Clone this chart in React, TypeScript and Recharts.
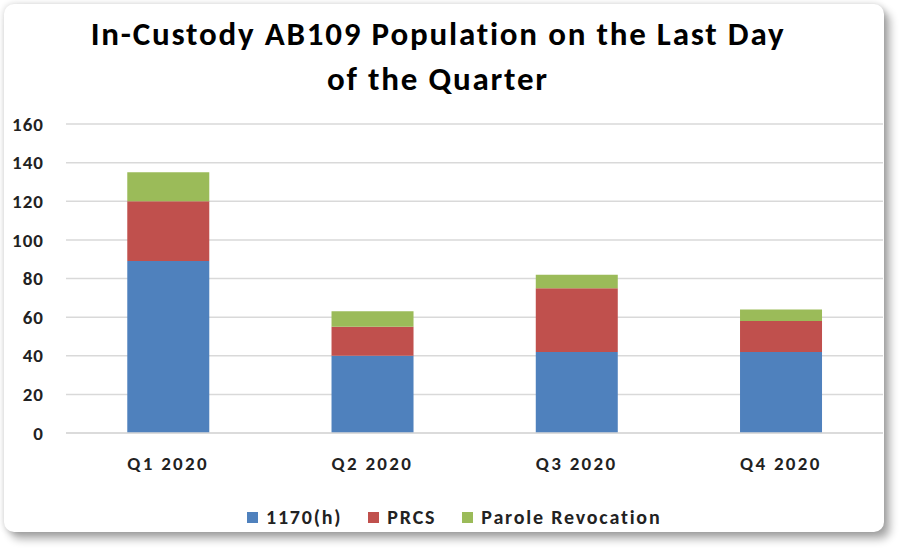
import React from 'react';
import { BarChart, Bar, XAxis, YAxis, CartesianGrid, Legend } from 'recharts';

const categories = ['Q1 2020', 'Q2 2020', 'Q3 2020', 'Q4 2020'];
const h1170 = [89, 40, 42, 42];
const prcs = [31, 15, 33, 16];
const paroleRevocation = [15, 8, 7, 6];
const yTicks = [0, 20, 40, 60, 80, 100, 120, 140, 160];

const seriesNames = ['1170(h)', 'PRCS', 'Parole Revocation'];
const seriesColors = ['#4F81BD', '#C0504D', '#9BBB59'];

const data = categories.map((c, i) => ({
  name: c,
  a: h1170[i],
  b: prcs[i],
  c: paroleRevocation[i],
}));

const FONT = 'Calibri, Carlito, Lato, "Noto Sans", sans-serif';

const LegendContent = () => (
  <div style={{ display: 'flex', alignItems: 'center', fontFamily: FONT, fontWeight: 700, fontSize: 20, letterSpacing: '1.8px', color: '#222', whiteSpace: 'nowrap' }}>
    {seriesNames.map((n, i) => (
      <div key={n} style={{ display: 'flex', alignItems: 'center', marginRight: i < 2 ? 26 : 0 }}>
        <div style={{ width: 11, height: 11, background: seriesColors[i], marginRight: 8 }} />
        <span>{n}</span>
      </div>
    ))}
  </div>
);

export default function App() {
  return (
    <div style={{ position: 'absolute', left: 0, top: 0, width: 899, height: 550, background: '#fff', overflow: 'hidden' }}>
      <div
        style={{
          position: 'absolute',
          left: 4,
          top: 4,
          width: 880,
          height: 528,
          borderRadius: 10,
          background: '#fff',
          boxShadow: '0 0 6px rgba(0,0,0,0.18), 6px 7px 9px rgba(0,0,0,0.32)',
        }}
      />
      <div
        style={{
          position: 'absolute',
          left: 0,
          top: 12,
          width: 876,
          textAlign: 'center',
          fontFamily: FONT,
          fontWeight: 700,
          fontSize: 33,
          letterSpacing: '1.8px',
          lineHeight: '45px',
          color: '#000',
        }}
      >
        In-Custody AB109 Population on the Last Day
        <br />
        of the Quarter
      </div>
      <div style={{ position: 'absolute', left: 0, top: 0 }}>
        <BarChart
          width={899}
          height={550}
          data={data}
          margin={{ top: 124, right: 16, bottom: 77, left: 0 }}
          barCategoryGap="30%"
        >
          <CartesianGrid vertical={false} stroke="#d9d9d9" strokeWidth={1.5} />
          <XAxis
            dataKey="name"
            height={40}
            axisLine={{ stroke: '#d9d9d9', strokeWidth: 1.5 }}
            tickLine={false}
            tickSize={6}
            tickMargin={18}
            tick={{ fill: '#222', fontSize: 19, fontWeight: 700, fontFamily: FONT, letterSpacing: '2.3px' }}
          />
          <YAxis
            width={66}
            domain={[0, 160]}
            ticks={yTicks}
            axisLine={false}
            tickLine={false}
            tickSize={6}
            tickMargin={16}
            tick={{ fill: '#222', fontSize: 19, fontWeight: 700, fontFamily: FONT, letterSpacing: '1px' }}
          />
          <Legend
            layout="horizontal"
            verticalAlign="middle"
            content={<LegendContent />}
            wrapperStyle={{ position: 'absolute', left: 247, top: 505, width: 'auto' }}
          />
          <Bar dataKey="a" name={seriesNames[0]} stackId="s" fill={seriesColors[0]} isAnimationActive={false} />
          <Bar dataKey="b" name={seriesNames[1]} stackId="s" fill={seriesColors[1]} isAnimationActive={false} />
          <Bar dataKey="c" name={seriesNames[2]} stackId="s" fill={seriesColors[2]} isAnimationActive={false} />
        </BarChart>
      </div>
    </div>
  );
}
